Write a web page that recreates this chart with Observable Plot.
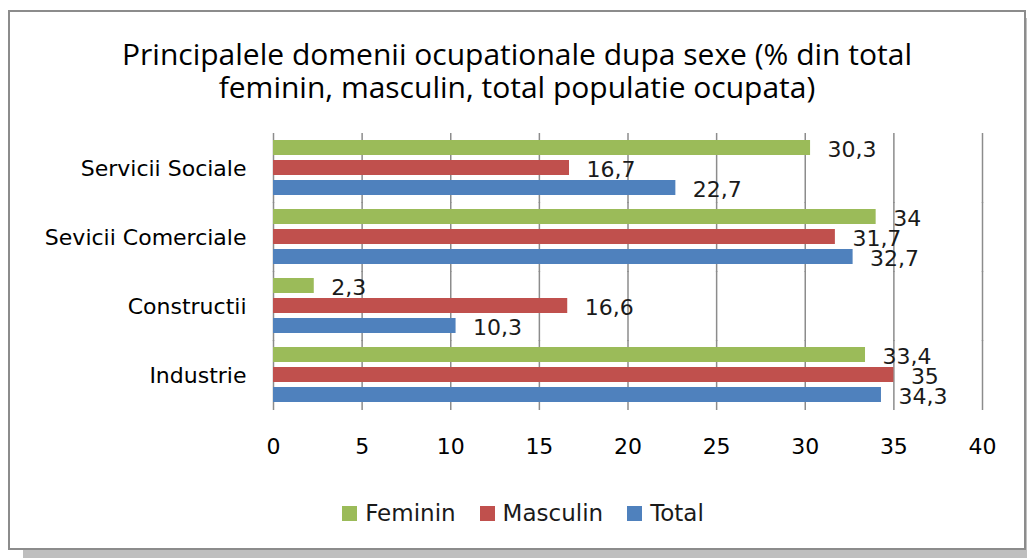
<!DOCTYPE html>
<html>
<head>
<meta charset="utf-8">
<script src="https://cdn.jsdelivr.net/npm/d3@7"></script>
<script src="https://cdn.jsdelivr.net/npm/@observablehq/plot@0.6"></script>
<style>
  html, body { margin: 0; padding: 0; background: #fff; }
  body { width: 1027px; height: 558px; overflow: hidden; position: relative; }
  #frame { position: absolute; left: 8px; top: 10px; width: 1014px; height: 536px;
           border: 2px solid #8c8c8c; background: #fff; box-shadow: 15px 8px 0 #bfbfbf; }
  .tline { position: absolute; left: 17px; width: 1000px; text-align: center; height: 32px;
           font-family: "Open Sans", sans-serif; font-size: 30px; line-height: 32px; color: #000; }
  #chart { position: absolute; left: 0; top: 110px; }
  #legend { position: absolute; left: 0; top: 499px; width: 1046px; display: flex; justify-content: center;
            font-family: "DejaVu Sans", sans-serif; font-size: 23px; line-height: 28px; color: #1a1a1a; }
  .item { display: flex; align-items: center; margin: 0 12px; }
  .sw { width: 15px; height: 15px; margin-right: 8px; }
</style>
</head>
<body>
<div id="frame"></div>
<div class="tline" style="top:38px">Principalele domenii ocupationale dupa sexe (% din total</div>
<div class="tline" style="top:71px">feminin, masculin, total populatie ocupata)</div>
<div id="chart"></div>
<div id="legend"></div>
<script>
const categories = ["Servicii Sociale", "Sevicii Comerciale", "Constructii", "Industrie"];
const seriesNames = ["Feminin", "Masculin", "Total"];
const seriesColors = ["#9BBB59", "#C0504D", "#4F81BD"];
const feminin = [30.3, 34, 2.3, 33.4];
const masculin = [16.7, 31.7, 16.6, 35];
const total = [22.7, 32.7, 10.3, 34.3];
const xTicks = [0, 5, 10, 15, 20, 25, 30, 35, 40];

const seriesValues = [feminin, masculin, total];
const rows = [];
categories.forEach((c, i) => {
  seriesNames.forEach((s, j) => {
    rows.push({category: c, series: s, value: seriesValues[j][i]});
  });
});
const fmt = v => String(v).replace(".", ",");

const chart = Plot.plot({
  width: 1027,
  height: 360,
  marginLeft: 273,
  marginRight: 45,
  marginTop: 24,
  marginBottom: 60,
  style: {background: "transparent", fontFamily: "DejaVu Sans, sans-serif", fontSize: "22px", color: "#000"},
  x: {domain: [0, 40], ticks: xTicks, tickSize: 0, tickPadding: 32, label: null, tickFormat: d => String(d)},
  y: {domain: seriesNames, axis: null, paddingInner: 0.244, paddingOuter: 0.137},
  fy: {domain: categories, axis: "left", tickSize: 0, tickPadding: 27, label: null, paddingInner: 0.1, paddingOuter: 0.05},
  color: {domain: seriesNames, range: seriesColors},
  marks: [
    Plot.ruleX(xTicks, {stroke: "#8c8c8c", strokeWidth: 1.5, insetTop: -4, insetBottom: -4}),
    Plot.barX(rows, {x: "value", y: "series", fy: "category", fill: "series"}),
    Plot.text(rows, {x: "value", y: "series", fy: "category", text: d => fmt(d.value),
                     textAnchor: "start", dx: 17, dy: 2, fill: "#1a1a1a", fontSize: 22})
  ]
});
document.getElementById("chart").appendChild(chart);

const legend = document.getElementById("legend");
seriesNames.forEach((s, j) => {
  const item = document.createElement("div");
  item.className = "item";
  const sw = document.createElement("div");
  sw.className = "sw";
  sw.style.background = seriesColors[j];
  const t = document.createElement("span");
  t.textContent = s;
  item.appendChild(sw);
  item.appendChild(t);
  legend.appendChild(item);
});
</script>
</body>
</html>
